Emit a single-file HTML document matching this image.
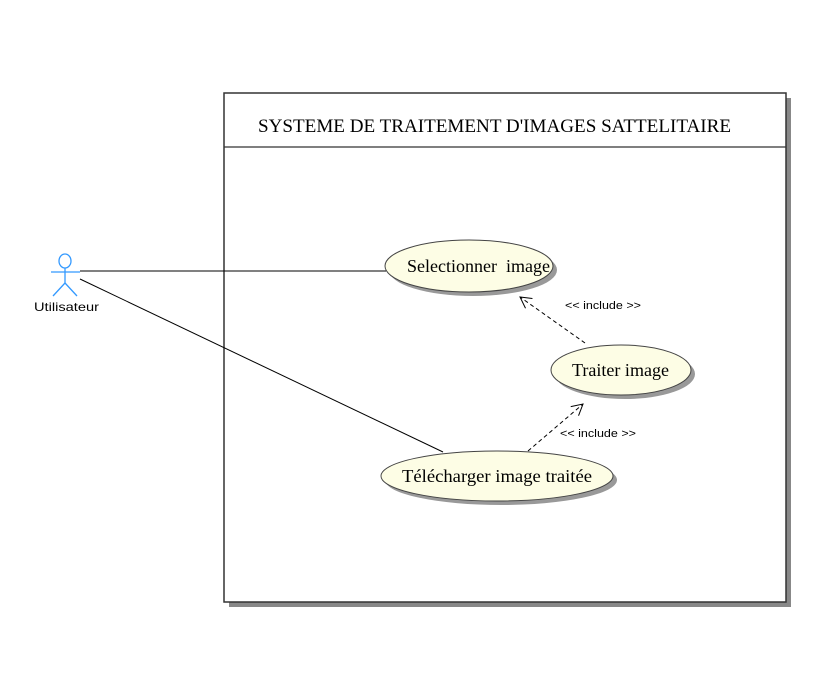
<!DOCTYPE html>
<html><head><meta charset="utf-8"><style>
body{margin:0;background:#fff;width:834px;height:690px;overflow:hidden}
</style></head><body>
<svg width="834" height="690" xmlns="http://www.w3.org/2000/svg">
<defs>
<marker id="a" markerWidth="14" markerHeight="14" refX="12" refY="7" orient="auto" markerUnits="userSpaceOnUse">
<path d="M1,1 L12,7 L1,13" fill="none" stroke="#000" stroke-width="1"/>
</marker>
</defs>
<rect x="229" y="98" width="562" height="509" fill="#888"/>
<rect x="224" y="93" width="562" height="509" fill="#fff" stroke="#333" stroke-width="1.5"/>
<line x1="224" y1="147" x2="786" y2="147" stroke="#333" stroke-width="1.2"/>
<text x="258" y="132" textLength="473" lengthAdjust="spacingAndGlyphs" font-family="Liberation Serif, serif" font-size="19" fill="#000">SYSTEME DE TRAITEMENT D'IMAGES SATTELITAIRE</text>

<g stroke="#3399ff" stroke-width="1.3" fill="none">
<ellipse cx="65" cy="261" rx="6" ry="7"/>
<line x1="65" y1="268" x2="65" y2="283"/>
<line x1="51" y1="272" x2="80" y2="272"/>
<line x1="65" y1="283" x2="53" y2="296"/>
<line x1="65" y1="283" x2="77" y2="296"/>
</g>
<text x="34" y="311" textLength="65" lengthAdjust="spacingAndGlyphs" font-family="Liberation Sans, sans-serif" font-size="12" fill="#000">Utilisateur</text>

<line x1="80" y1="271" x2="386" y2="271" stroke="#000" stroke-width="1"/>
<line x1="80" y1="279" x2="443" y2="452" stroke="#000" stroke-width="1"/>

<g>
<ellipse cx="473" cy="270" rx="84" ry="26" fill="#999"/>
<ellipse cx="469" cy="266" rx="84" ry="26" fill="#fdfde5" stroke="#444" stroke-width="1"/>
<text x="407" y="272" textLength="143" lengthAdjust="spacingAndGlyphs" font-family="Liberation Serif, serif" font-size="18">Selectionner&#160; image</text>
<ellipse cx="625" cy="374" rx="70" ry="25" fill="#999"/>
<ellipse cx="621" cy="370" rx="70" ry="25" fill="#fdfde5" stroke="#444" stroke-width="1"/>
<text x="572" y="376" textLength="97" lengthAdjust="spacingAndGlyphs" font-family="Liberation Serif, serif" font-size="18">Traiter image</text>
<ellipse cx="501" cy="480" rx="116" ry="25" fill="#999"/>
<ellipse cx="497" cy="476" rx="116" ry="25" fill="#fdfde5" stroke="#444" stroke-width="1"/>
<text x="402" y="482" textLength="190" lengthAdjust="spacingAndGlyphs" font-family="Liberation Serif, serif" font-size="18">Télécharger image traitée</text>
</g>

<line x1="585" y1="343" x2="520" y2="297" stroke="#000" stroke-dasharray="4,3" marker-end="url(#a)"/>
<line x1="528" y1="451" x2="583" y2="404" stroke="#000" stroke-dasharray="4,3" marker-end="url(#a)"/>
<text x="565" y="309" textLength="76" lengthAdjust="spacingAndGlyphs" font-family="Liberation Sans, sans-serif" font-size="11">&lt;&lt; include &gt;&gt;</text>
<text x="560" y="437" textLength="76" lengthAdjust="spacingAndGlyphs" font-family="Liberation Sans, sans-serif" font-size="11">&lt;&lt; include &gt;&gt;</text>
</svg>
</body></html>
